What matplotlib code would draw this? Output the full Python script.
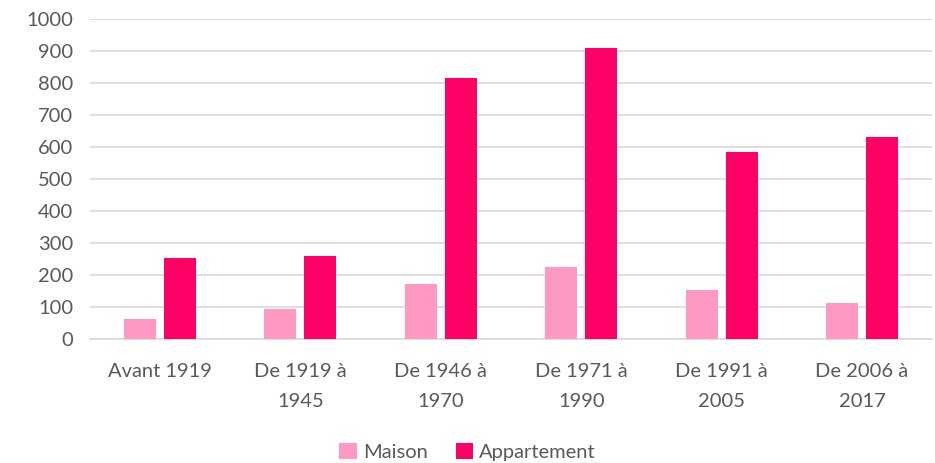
import numpy as np
import matplotlib
matplotlib.use("Agg")
import matplotlib.pyplot as plt

# Données
categories = ["Avant 1919", "De 1919 à\n1945", "De 1946 à\n1970",
              "De 1971 à\n1990", "De 1991 à\n2005", "De 2006 à\n2017"]
maison = [62, 93, 171, 225, 153, 112]
appartement = [253, 259, 815, 908, 584, 630]

text_color = "#595959"
plt.rcParams['font.family'] = ['Lato', 'DejaVu Sans']

fig = plt.figure(figsize=(9.35, 4.63), dpi=100)
ax = fig.add_axes([0.096, 0.268, 0.901, 0.691])

x = np.arange(len(categories))
w = 0.228
gap = 0.057
ax.bar(x - (w + gap) / 2, maison, w, color="#FF99C4", label="Maison", zorder=3)
ax.bar(x + (w + gap) / 2, appartement, w, color="#FF0066", label="Appartement", zorder=3)

ax.set_xlim(-0.5, len(categories) - 0.5)
ax.set_ylim(0, 1000)
ax.set_yticks(range(0, 1001, 100))
ax.yaxis.grid(True, color="#D9D9D9", linewidth=1.2, zorder=0)
ax.set_axisbelow(True)

ax.set_xticks(x)
ax.set_xticklabels(categories, linespacing=1.95)
ax.tick_params(axis='both', length=0, labelsize=14.5, colors=text_color)
ax.tick_params(axis='x', pad=17)
ax.tick_params(axis='y', pad=12)

for side in ['top', 'right', 'left']:
    ax.spines[side].set_visible(False)
ax.spines['bottom'].set_color("#D9D9D9")
ax.spines['bottom'].set_linewidth(1.2)

leg = fig.legend(loc='lower center', bbox_to_anchor=(0.5, -0.035), ncol=2,
                 frameon=False, fontsize=14.5, handlelength=0.85, handleheight=0.85,
                 handletextpad=0.3, columnspacing=1.4)
for t in leg.get_texts():
    t.set_color(text_color)

fig.savefig("out.png", dpi=100)
